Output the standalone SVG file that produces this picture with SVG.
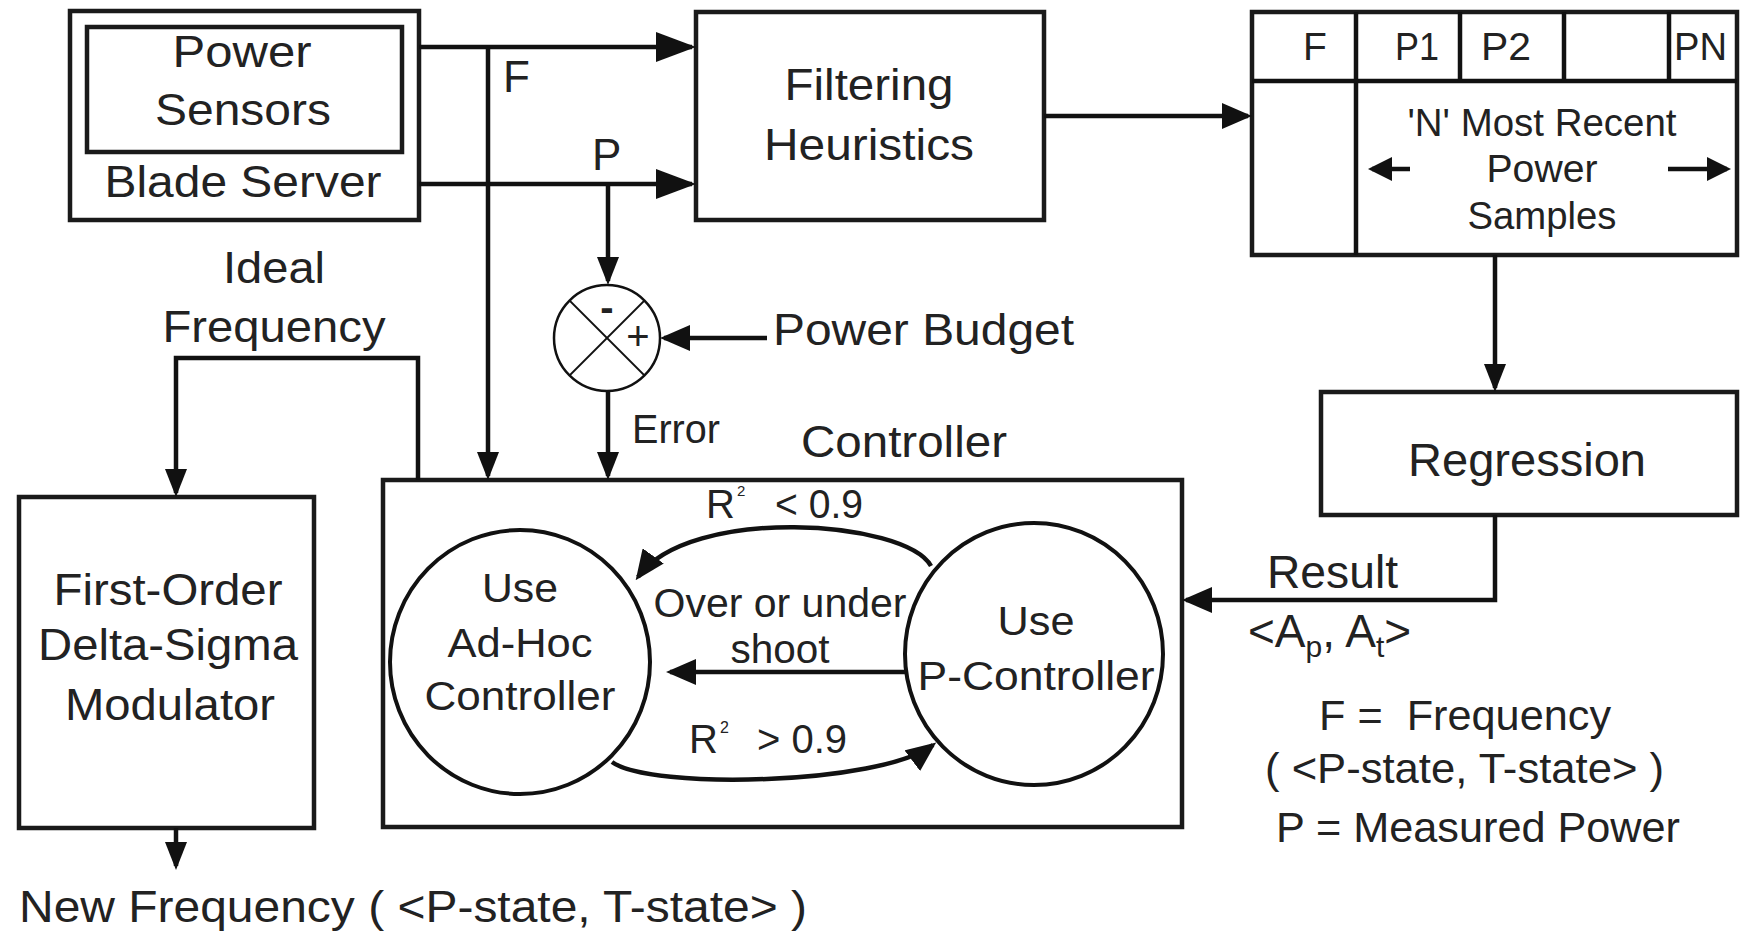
<svg xmlns="http://www.w3.org/2000/svg" width="1740" height="933" viewBox="0 0 1740 933" font-size="44">
<style>
.box{fill:#fff;stroke:#1a1a1a;stroke-width:4.5}
.ln{fill:none;stroke:#111;stroke-width:4.5}
.thin{fill:none;stroke:#111;stroke-width:1.8}
.t{font-family:"Liberation Sans",Arial,sans-serif;fill:#222}
.m{text-anchor:middle}
</style>
<defs>
<marker id="ab" markerUnits="userSpaceOnUse" markerWidth="40" markerHeight="30" refX="36" refY="15" orient="auto"><path d="M0,0 L40,15 L0,30 z" fill="#111"/></marker>
<marker id="a" markerUnits="userSpaceOnUse" markerWidth="30" markerHeight="26" refX="26" refY="13" orient="auto"><path d="M0,0 L30,13 L0,26 z" fill="#111"/></marker>
<marker id="an" markerUnits="userSpaceOnUse" markerWidth="28" markerHeight="22" refX="24" refY="11" orient="auto"><path d="M0,0 L28,11 L0,22 z" fill="#111"/></marker>
<marker id="as" markerUnits="userSpaceOnUse" markerWidth="24" markerHeight="24" refX="20" refY="12" orient="auto"><path d="M0,0 L24,12 L0,24 z" fill="#111"/></marker>
</defs>
<rect width="1740" height="933" fill="#fff"/>

<g id="blade-server">
<rect class="box" x="70" y="11" width="349" height="209"/>
<rect class="box" x="87" y="27" width="315" height="125"/>
<text class="t m" x="242" y="67" textLength="139" lengthAdjust="spacingAndGlyphs">Power</text>
<text class="t m" x="243" y="125" textLength="176" lengthAdjust="spacingAndGlyphs">Sensors</text>
<text class="t m" x="243" y="197" textLength="277" lengthAdjust="spacingAndGlyphs">Blade Server</text>
</g>

<g id="filtering">
<rect class="box" x="696" y="12" width="348" height="208"/>
<text class="t m" x="869" y="100" textLength="169" lengthAdjust="spacingAndGlyphs">Filtering</text>
<text class="t m" x="869" y="160" textLength="210" lengthAdjust="spacingAndGlyphs">Heuristics</text>
</g>

<g id="sample-table">
<rect class="box" x="1252" y="12" width="485" height="243"/>
<line class="ln" x1="1252" y1="81" x2="1737" y2="81"/>
<line class="ln" x1="1356" y1="12" x2="1356" y2="255"/>
<line class="ln" x1="1460" y1="12" x2="1460" y2="81"/>
<line class="ln" x1="1564" y1="12" x2="1564" y2="81"/>
<line class="ln" x1="1669" y1="12" x2="1669" y2="81"/>
<text class="t" x="1303" y="60" font-size="39">F</text>
<text class="t" x="1395" y="60" font-size="39" textLength="44" lengthAdjust="spacingAndGlyphs">P1</text>
<text class="t" x="1481" y="60" font-size="39" textLength="50" lengthAdjust="spacingAndGlyphs">P2</text>
<text class="t" x="1674" y="60" font-size="39" textLength="53" lengthAdjust="spacingAndGlyphs">PN</text>
<text class="t m" x="1542" y="136" font-size="38" textLength="269" lengthAdjust="spacingAndGlyphs">'N' Most Recent</text>
<text class="t m" x="1542" y="182" font-size="38" textLength="111" lengthAdjust="spacingAndGlyphs">Power</text>
<text class="t m" x="1542" y="229" font-size="38" textLength="149" lengthAdjust="spacingAndGlyphs">Samples</text>
<line class="ln" x1="1410" y1="169" x2="1372" y2="169" marker-end="url(#as)"/>
<line class="ln" x1="1668" y1="169" x2="1727" y2="169" marker-end="url(#as)"/>
</g>

<g id="regression">
<rect class="box" x="1321" y="392" width="416" height="123"/>
<text class="t m" x="1527" y="476" font-size="46" textLength="238" lengthAdjust="spacingAndGlyphs">Regression</text>
</g>

<g id="summing-junction">
<circle cx="607" cy="338" r="53" fill="#fff" stroke="#111" stroke-width="2.5"/>
<line class="thin" x1="569.5" y1="300.5" x2="644.5" y2="375.5"/>
<line class="thin" x1="644.5" y1="300.5" x2="569.5" y2="375.5"/>
<text class="t m" x="607" y="321" font-size="40" font-weight="bold">-</text>
<text class="t m" x="638" y="350" font-size="40">+</text>
</g>

<g id="fodsm">
<rect class="box" x="19" y="497" width="295" height="331"/>
<text class="t m" x="168" y="605" textLength="229" lengthAdjust="spacingAndGlyphs">First-Order</text>
<text class="t m" x="168" y="660" textLength="260" lengthAdjust="spacingAndGlyphs">Delta-Sigma</text>
<text class="t m" x="170" y="720" textLength="210" lengthAdjust="spacingAndGlyphs">Modulator</text>
</g>

<g id="controller">
<rect class="box" x="383" y="480" width="799" height="347"/>
<text class="t m" x="904" y="457" textLength="206" lengthAdjust="spacingAndGlyphs">Controller</text>
</g>

<g id="adhoc-state">
<ellipse cx="520" cy="662" rx="130" ry="132" fill="none" stroke="#111" stroke-width="4"/>
<text class="t m" x="520" y="602" font-size="41" textLength="76" lengthAdjust="spacingAndGlyphs">Use</text>
<text class="t m" x="520" y="657" font-size="41" textLength="145" lengthAdjust="spacingAndGlyphs">Ad-Hoc</text>
<text class="t m" x="520" y="710" font-size="41" textLength="191" lengthAdjust="spacingAndGlyphs">Controller</text>
</g>

<g id="p-state">
<ellipse cx="1034" cy="654" rx="129" ry="131" fill="none" stroke="#111" stroke-width="4"/>
<text class="t m" x="1036" y="635" font-size="41" textLength="77" lengthAdjust="spacingAndGlyphs">Use</text>
<text class="t m" x="1036" y="690" font-size="41" textLength="237" lengthAdjust="spacingAndGlyphs">P-Controller</text>
</g>

<g id="connectors">
<line class="ln" x1="419" y1="47" x2="692" y2="47" marker-end="url(#ab)"/>
<line class="ln" x1="419" y1="184" x2="692" y2="184" marker-end="url(#ab)"/>
<line class="ln" x1="488" y1="47" x2="488" y2="476" marker-end="url(#an)"/>
<line class="ln" x1="608" y1="184" x2="608" y2="281" marker-end="url(#an)"/>
<line class="ln" x1="767" y1="338" x2="664" y2="338" marker-end="url(#a)"/>
<line class="ln" x1="608" y1="391" x2="608" y2="476" marker-end="url(#an)"/>
<polyline class="ln" points="418,480 418,358 176,358 176,493" marker-end="url(#an)"/>
<line class="ln" x1="176" y1="828" x2="176" y2="866" marker-end="url(#an)"/>
<line class="ln" x1="1044" y1="116" x2="1248" y2="116" marker-end="url(#a)"/>
<line class="ln" x1="1495" y1="255" x2="1495" y2="388" marker-end="url(#an)"/>
<polyline class="ln" points="1495,515 1495,600 1186,600" marker-end="url(#a)"/>
<line class="ln" x1="905" y1="672" x2="670" y2="672" marker-end="url(#a)"/>
<path class="ln" d="M931,566 C905,520 690,505 638,577" marker-end="url(#a)"/>
<path class="ln" d="M612,762 C650,790 880,785 933,745" marker-end="url(#a)"/>
</g>

<g id="labels">
<text class="t" x="503" y="92">F</text>
<text class="t" x="592" y="170">P</text>
<text class="t" x="773" y="345" textLength="301" lengthAdjust="spacingAndGlyphs">Power Budget</text>
<text class="t" x="632" y="443" font-size="40" textLength="88" lengthAdjust="spacingAndGlyphs">Error</text>
<text class="t m" x="274" y="283" textLength="102" lengthAdjust="spacingAndGlyphs">Ideal</text>
<text class="t m" x="274" y="342" textLength="223" lengthAdjust="spacingAndGlyphs">Frequency</text>
<text class="t" x="19" y="922" textLength="788" lengthAdjust="spacingAndGlyphs">New Frequency ( &lt;P-state, T-state&gt; )</text>
<text class="t" x="706" y="518" font-size="40">R</text>
<text class="t" x="737" y="496" font-size="15">2</text>
<text class="t" x="775" y="518" font-size="40" textLength="88" lengthAdjust="spacingAndGlyphs">&lt; 0.9</text>
<text class="t" x="689" y="753" font-size="40">R</text>
<text class="t" x="720" y="733" font-size="16">2</text>
<text class="t" x="757" y="753" font-size="40" textLength="90" lengthAdjust="spacingAndGlyphs">&gt; 0.9</text>
<text class="t m" x="780" y="617" font-size="40" textLength="253" lengthAdjust="spacingAndGlyphs">Over or under</text>
<text class="t m" x="780" y="663" font-size="40" textLength="99" lengthAdjust="spacingAndGlyphs">shoot</text>
<text class="t" x="1267" y="588" font-size="46" textLength="131" lengthAdjust="spacingAndGlyphs">Result</text>
<text class="t" x="1248" y="647" font-size="46">&lt;A<tspan font-size="30" dy="10">p</tspan><tspan dy="-10">, A</tspan><tspan font-size="30" dy="10">t</tspan><tspan dy="-10">&gt;</tspan></text>
<text class="t" x="1319" y="730" font-size="42" textLength="292" lengthAdjust="spacingAndGlyphs">F =&#160; Frequency</text>
<text class="t" x="1265" y="783" font-size="42" textLength="399" lengthAdjust="spacingAndGlyphs">( &lt;P-state, T-state&gt; )</text>
<text class="t" x="1276" y="842" font-size="42" textLength="404" lengthAdjust="spacingAndGlyphs">P = Measured Power</text>
</g>
</svg>
